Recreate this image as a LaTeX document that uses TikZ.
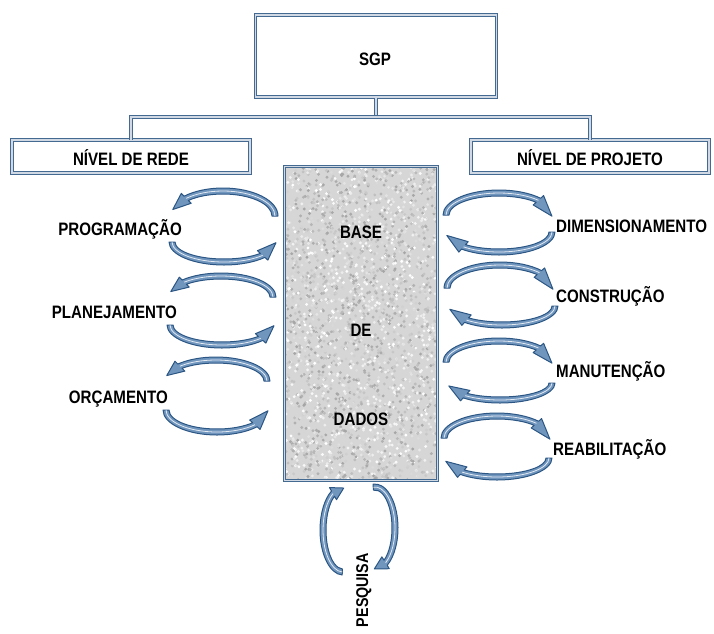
\documentclass[tikz,border=0pt]{standalone}
\usepackage{fontspec}
\newfontfamily\lblfont[FakeStretch=0.84]{Liberation Sans Bold}
\usetikzlibrary{calc}
\definecolor{boxblue}{HTML}{456A92}
\definecolor{arrdark}{HTML}{2B5684}
\definecolor{arrfill}{HTML}{7196BE}
\tikzset{
  dbl/.style={draw=boxblue, line width=1pt, double=boxblue!25, double distance=1.2pt},
  boxnode/.style={dbl, fill=white, inner sep=0pt},
  lbl/.style={font=\lblfont\fontsize{18}{20}\selectfont, text=black, inner sep=0pt},
  carrowstyle/.style={draw=arrdark, line width=1pt, fill=arrfill, line join=round}
}
% #1 cx, #2 cy (pixels, y down), #3 rx, #4 ry, #5 start angle, #6 end angle of band, #7 tip angle
\newcommand\bandarrow[7]{%
\begin{scope}[shift={(#1,-#2)}]
\pgfmathsetmacro\Rxo{#3+3}\pgfmathsetmacro\Ryo{#4+3}%
\pgfmathsetmacro\Rxi{#3-3}\pgfmathsetmacro\Ryi{#4-3}%
\pgfmathsetmacro\Rxh{#3+7}\pgfmathsetmacro\Ryh{#4+7}%
\pgfmathsetmacro\Rxl{#3-7}\pgfmathsetmacro\Ryl{#4-7}%
\draw[carrowstyle] (#5:\Rxo pt and \Ryo pt) arc[start angle=#5, end angle=#6, x radius=\Rxo pt, y radius=\Ryo pt]
  -- (#6:\Rxh pt and \Ryh pt) -- (#7:#3pt and #4pt) -- (#6:\Rxl pt and \Ryl pt)
  -- (#6:\Rxi pt and \Ryi pt) arc[start angle=#6, end angle=#5, x radius=\Rxi pt, y radius=\Ryi pt] -- cycle;
\draw[white!80!arrfill, line width=0.8pt] (#5:#3pt and #4pt) arc[start angle=#5, end angle=#6, x radius=#3pt, y radius=#4pt];
\end{scope}}
\begin{document}
\begin{tikzpicture}[x=1pt,y=1pt]
\useasboundingbox (0,0) rectangle (714,-633);
% top boxes
\node[boxnode, minimum width=241pt, minimum height=82pt] (sgp) at (376,-56) {};
\node[lbl, anchor=base] (sgpt) at (375,-65) {SGP};
\node[boxnode, minimum width=238pt, minimum height=33pt] (rede) at (131,-156.5) {};
\node[lbl, anchor=base] (redet) at (131,-165) {NÍVEL DE REDE};
\node[boxnode, minimum width=238pt, minimum height=33pt] (proj) at (590,-156.5) {};
\node[lbl, anchor=base] (projt) at (590,-165) {NÍVEL DE PROJETO};
\coordinate (j) at (376,-117);
\draw[dbl] (sgp.south) -- (j);
\draw[dbl] (rede.north) -- (rede.north |- j) -- (proj.north |- j) -- (proj.north);
% data base
\node[fill=black!16, minimum width=152pt, minimum height=313pt, inner sep=0pt] (db) at (361,-323.5) {};
\begin{scope}
\clip (db.south west) rectangle (db.north east);
\pgfmathsetseed{7}
\foreach \i in {1,...,2600}{%
  \pgfmathsetmacro\px{285+rnd*152}%
  \pgfmathsetmacro\py{-167-rnd*313}%
  \pgfmathsetmacro\gv{int(rnd*36)}%
  \fill[black!\gv] (\px,\py) circle (1.6pt);
}
\end{scope}
\draw[dbl] (db.south west) rectangle (db.north east);
\node[lbl, anchor=base] (base) at (361,-238) {BASE};
\node[lbl, anchor=base] (de) at (361,-336) {DE};
\node[lbl, anchor=base] (dados) at (361,-425) {DADOS};
% left cycles
\bandarrow{223}{216}{52}{25}{0}{135}{165}
\bandarrow{224}{242}{52}{20}{180}{318}{358}
\bandarrow{221}{297}{52}{21}{0}{135}{165}
\bandarrow{222}{325}{52}{20}{180}{318}{358}
\bandarrow{216}{381}{51}{21}{0}{135}{165}
\bandarrow{217}{410}{51}{22}{180}{318}{358}
\node[lbl, anchor=base east] (prog) at (182,-235) {PROGRAMAÇÃO};
\node[lbl, anchor=base east] (plan) at (177,-318) {PLANEJAMENTO};
\node[lbl, anchor=base east] (orc) at (168,-403) {ORÇAMENTO};
% right cycles
\bandarrow{499}{215}{53}{22}{180}{42}{-3}
\bandarrow{499}{232}{53}{20}{360}{228}{190}
\bandarrow{500}{288}{53}{23}{180}{42}{-3}
\bandarrow{502}{306}{53}{19}{360}{228}{190}
\bandarrow{499}{362}{53}{21}{180}{42}{-3}
\bandarrow{500}{383}{52}{17}{360}{228}{190}
\bandarrow{497}{438}{53}{22}{180}{42}{-3}
\bandarrow{497}{458}{52}{19}{360}{228}{190}
\node[lbl, anchor=base west] (dim) at (556,-232) {DIMENSIONAMENTO};
\node[lbl, anchor=base west] (cons) at (556,-302) {CONSTRUÇÃO};
\node[lbl, anchor=base west] (manu) at (556,-377) {MANUTENÇÃO};
\node[lbl, anchor=base west] (reab) at (553,-455) {REABILITAÇÃO};
% bottom cycle
\bandarrow{343}{530}{20}{42}{268}{120}{88}
\bandarrow{375}{528}{20}{41}{95}{-58}{-92}
\node[lbl, font=\lblfont\fontsize{17}{19}\selectfont, rotate=90, anchor=base east] (pesq) at (368,-553) {PESQUISA};
\end{tikzpicture}
\end{document}
